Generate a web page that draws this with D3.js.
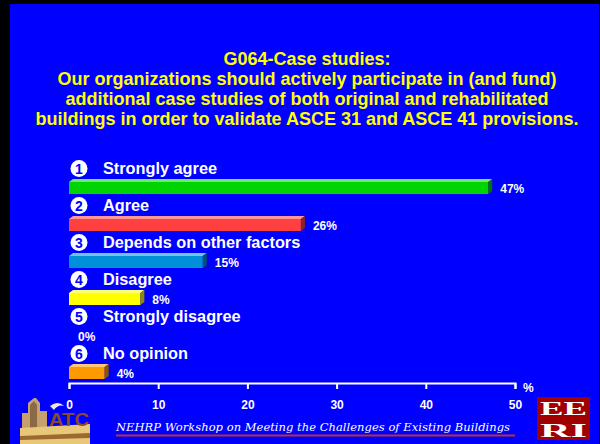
<!DOCTYPE html>
<html>
<head>
<meta charset="utf-8">
<script src="https://cdn.jsdelivr.net/npm/d3@7"></script>
<style>
  body { margin: 0; background: #000; }
  svg { display: block; }
  text { font-family: "Liberation Sans", Arial, sans-serif; }
</style>
</head>
<body>
<div id="chart"></div>
<script>
// answers and share of votes (%)
const categories = ['Strongly agree', 'Agree', 'Depends on other factors', 'Disagree', 'Strongly disagree', 'No opinion'];
const markers = ['1', '2', '3', '4', '5', '6'];
const values = [47, 26, 15, 8, 0, 4];
const barColors = ['#00d400', '#ff4040', '#0090d8', '#ffff00', '#c0c0c0', '#ff9900'];
const ticks = [0, 10, 20, 30, 40, 50];
const titleLines = [
  'G064-Case studies:',
  'Our organizations should actively participate in (and fund)',
  'additional case studies of both original and rehabilitated',
  'buildings in order to validate ASCE 31 and ASCE 41 provisions.'
];
const footer = 'NEHRP Workshop on Meeting the Challenges of Existing Buildings';

const W = 600, H = 444;
const depthX = 4, depthY = 3;

const svg = d3.select('#chart').append('svg')
  .attr('width', W)
  .attr('height', H);

// black frame and blue slide
svg.append('rect').attr('width', W).attr('height', H).attr('fill', '#000');
svg.append('rect')
  .attr('x', 10).attr('y', 4)
  .attr('width', 589).attr('height', H - 4)
  .attr('fill', '#0000ff');

// title
svg.append('g')
  .selectAll('text')
  .data(titleLines)
  .join('text')
  .attr('x', 307)
  .attr('y', (d, i) => 64.5 + i * 20.2)
  .attr('text-anchor', 'middle')
  .attr('fill', '#ffff00')
  .style('font-size', '18px')
  .style('font-weight', 'bold')
  .text(d => d);

const x = d3.scaleLinear().domain([0, 50]).range([69, 515]);
const row = d3.scaleBand().domain(categories).range([156, 378]);

const rows = svg.append('g')
  .selectAll('g')
  .data(categories.map((c, i) => ({ c, v: values[i], col: barColors[i], m: markers[i] })))
  .join('g')
  .attr('transform', d => `translate(0,${row(d.c)})`);

// numbered white discs
rows.append('circle')
  .attr('cx', 79)
  .attr('cy', 12.5)
  .attr('r', 8.5)
  .attr('fill', '#fff');
rows.append('text')
  .attr('x', 79)
  .attr('y', 17.5)
  .attr('text-anchor', 'middle')
  .attr('fill', '#0000ff')
  .style('font-size', '14px')
  .style('font-weight', 'bold')
  .text(d => d.m);

rows.append('text')
  .attr('x', 103)
  .attr('y', 18)
  .attr('fill', '#fff')
  .style('font-size', '16.3px')
  .style('font-weight', 'bold')
  .text(d => d.c);

const bars = rows.filter(d => d.v > 0);
const barTop = 26, bh = 12;

// front face
bars.append('rect')
  .attr('x', x(0))
  .attr('y', barTop)
  .attr('width', d => x(d.v) - x(0))
  .attr('height', bh)
  .attr('fill', d => d.col);

// top face
bars.append('path')
  .attr('d', d => {
    const x0 = x(0), x1 = x(d.v);
    return `M${x0},${barTop}L${x0 + depthX},${barTop - depthY}L${x1 + depthX},${barTop - depthY}L${x1},${barTop}Z`;
  })
  .attr('fill', d => d3.interpolateRgb(d.col, '#fff')(0.45));

// side face
bars.append('path')
  .attr('d', d => {
    const x1 = x(d.v);
    return `M${x1},${barTop}L${x1 + depthX},${barTop - depthY}L${x1 + depthX},${barTop + bh - depthY}L${x1},${barTop + bh}Z`;
  })
  .attr('fill', d => d3.interpolateRgb(d.col, '#000')(0.45));

rows.append('text')
  .attr('x', d => x(d.v) + (d.v > 0 ? 12 : 9))
  .attr('y', barTop + bh - 1)
  .attr('fill', '#fff')
  .style('font-size', '12px')
  .style('font-weight', 'bold')
  .text(d => d.v + '%');

// left logo (ATC), rough drawing
const logo = svg.append('g').attr('transform', 'translate(20,397)');
logo.append('path').attr('d', 'M2,34L2,16L8,16L8,6L14,1L16,1L20,6L20,14L27,14L27,34Z').attr('fill', '#c8a070');
logo.append('path').attr('d', 'M10,32L10,8L14,4L17,8L17,32Z').attr('fill', '#8a6a45');
logo.append('path').attr('d', 'M0,31L70,27L70,47L0,47Z').attr('fill', '#e8c878');
logo.append('path').attr('d', 'M0,39L70,36L70,41L0,43Z').attr('fill', '#9a6a30');
logo.append('text')
  .attr('x', 29).attr('y', 29)
  .attr('textLength', 40)
  .attr('lengthAdjust', 'spacingAndGlyphs')
  .attr('fill', '#8a4a2a')
  .style('font-size', '18px')
  .style('font-weight', 'bold')
  .text('ATC');
logo.append('path').attr('d', 'M30,9Q38,3 44,9Q38,7 34,13Z').attr('fill', '#f0e8d0');

// x axis
const axis = svg.append('g')
  .attr('transform', 'translate(0,383)')
  .call(d3.axisBottom(x).tickValues(ticks).tickSize(6).tickSizeOuter(6).tickPadding(11));
axis.select('.domain').attr('stroke', '#fff').attr('stroke-width', 2);
axis.selectAll('.tick line').attr('stroke', '#fff').attr('stroke-width', 2);
axis.selectAll('.tick text')
  .attr('fill', '#fff')
  .style('font-family', '"Liberation Sans", Arial, sans-serif')
  .style('font-size', '12px')
  .style('font-weight', 'bold');

svg.append('text')
  .attr('x', 523).attr('y', 392)
  .attr('fill', '#fff')
  .style('font-size', '12px')
  .style('font-weight', 'bold')
  .text('%');

// footer
svg.append('text')
  .attr('x', 116).attr('y', 431)
  .attr('textLength', 394)
  .attr('fill', '#fff')
  .style('font-family', '"DejaVu Serif", serif')
  .style('font-style', 'italic')
  .style('font-size', '11.5px')
  .text(footer);
svg.append('line')
  .attr('x1', 116).attr('x2', 515)
  .attr('y1', 435.5).attr('y2', 435.5)
  .attr('stroke', '#c03030')
  .attr('stroke-width', 2);

// EERI logo
const eeri = svg.append('g').attr('transform', 'translate(537,397)');
eeri.append('rect').attr('width', 53).attr('height', 43).attr('fill', '#a00000');
eeri.selectAll('text')
  .data(['EE', 'RI'])
  .join('text')
  .attr('x', 3)
  .attr('y', (d, i) => 18 + i * 22)
  .attr('textLength', 47)
  .attr('lengthAdjust', 'spacingAndGlyphs')
  .attr('fill', '#fff')
  .style('font-family', '"Liberation Serif", serif')
  .style('font-weight', 'bold')
  .style('font-size', '19px')
  .text(d => d);
</script>
</body>
</html>
